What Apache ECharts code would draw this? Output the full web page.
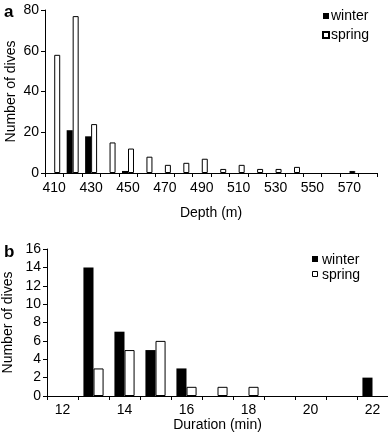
<!DOCTYPE html>
<html><head><meta charset="utf-8">
<script src="https://cdn.jsdelivr.net/npm/echarts@6/dist/echarts.min.js"></script>
<style>html,body{margin:0;padding:0;background:#fff}#c{width:388px;height:439px}</style>
</head><body><div id="c"></div>
<script>
// Panel a: depth
const depthCats = ['410','420','430','440','450','460','470','480','490','500','510','520','530','540','550','560','570','580'];
const depthWinter = [0,21,18,0,1,0,0,0,0,0,0,0,0,0,0,0,0,0];
const depthSpring = [58,77,24,15,12,8,4,5,7,2,4,2,2,3,0,0,1,0];
// Panel b: duration
const durCats = ['12','13','14','15','16','17','18','19','20','21','22'];
const durWinter = [0,14,7,5,3,0,0,0,0,0,2];
const durSpring = [0,3,5,6,1,1,1,0,0,0,0];

const nz = arr => arr.map(v => v === 0 ? '-' : v);
const FONT = '"Liberation Sans", Arial, sans-serif';
const txt = {color:'#000', fontFamily: FONT, fontSize: 14};
const chart = echarts.init(document.getElementById('c'), null, {renderer:'canvas'});
const axisLine = {show:true, lineStyle:{color:'#000', width:1}};
const axisTick = {show:true, length:4, lineStyle:{color:'#000'}};
const winterStyle = {color:'#000'};
const springStyle = {color:'#fff', borderColor:'#000', borderWidth:1};

chart.setOption({
  animation:false,
  textStyle:{fontFamily: FONT},
  grid:[
    {left:45, right:11, top:10, bottom:266, containLabel:false, outerBoundsMode:'none'},
    {left:47, right:0, top:249, bottom:43, containLabel:false, outerBoundsMode:'none'}
  ],
  legend:[
    {orient:'vertical', left:317, top:4, itemWidth:6, itemHeight:6, itemGap:5,
     textStyle:Object.assign({}, txt, {padding:[0,0,0,-3]}), data:[{name:'winter', icon:'rect'},{name:'spring', icon:'rect'}]},
  ],
  xAxis:[
    {type:'category', gridIndex:0, data:depthCats, boundaryGap:true,
     axisLine, axisTick:Object.assign({}, axisTick, {interval:0}),
     axisLabel:Object.assign({}, txt, {interval:1, margin:8}),
     name:'Depth (m)', nameLocation:'middle', nameGap:33, nameMoveOverlap:false, nameTextStyle:txt},
    {type:'category', gridIndex:1, data:durCats, boundaryGap:true,
     axisLine, axisTick:Object.assign({}, axisTick, {interval:0}),
     axisLabel:Object.assign({}, txt, {interval:1, margin:7}),
     name:'Duration (min)', nameLocation:'middle', nameGap:22, nameMoveOverlap:false, nameTextStyle:txt}
  ],
  yAxis:[
    {type:'value', gridIndex:0, min:0, max:80, interval:20, splitLine:{show:false},
     axisLine, axisTick, axisLabel:Object.assign({}, txt, {margin:6}),
     name:'Number of dives', nameLocation:'middle', nameGap:27, nameMoveOverlap:false, nameTextStyle:txt},
    {type:'value', gridIndex:1, min:0, max:16, interval:2, splitLine:{show:false},
     axisLine, axisTick, axisLabel:Object.assign({}, txt, {margin:6}),
     name:'Number of dives', nameLocation:'middle', nameGap:32, nameMoveOverlap:false, nameTextStyle:txt}
  ],
  series:[
    {name:'winter', type:'bar', xAxisIndex:0, yAxisIndex:0, data:nz(depthWinter), itemStyle:winterStyle, barGap:'0%', barCategoryGap:'35%'},
    {name:'spring', type:'bar', xAxisIndex:0, yAxisIndex:0, data:nz(depthSpring), itemStyle:springStyle, barGap:'0%', barCategoryGap:'35%'},
    {name:'winter', type:'bar', xAxisIndex:1, yAxisIndex:1, data:nz(durWinter), itemStyle:winterStyle, barGap:'0%', barCategoryGap:'35%'},
    {name:'spring', type:'bar', xAxisIndex:1, yAxisIndex:1, data:nz(durSpring), itemStyle:springStyle, barGap:'0%', barCategoryGap:'35%'}
  ],
  graphic:[
    {type:'text', left:4, top:4, style:{text:'a', font:'bold 17px '+FONT, fill:'#000'}},
    {type:'text', left:4, top:244, style:{text:'b', font:'bold 17px '+FONT, fill:'#000'}},
    {type:'group', left:312, top:253, children:[
      {type:'rect', shape:{x:0,y:3,width:6,height:6}, style:{fill:'#000'}},
      {type:'text', x:10, y:0, style:{text:'winter', font:'14px '+FONT, fill:'#000'}},
      {type:'rect', shape:{x:0.5,y:18.5,width:5,height:5}, style:{fill:'#fff', stroke:'#000', lineWidth:1}},
      {type:'text', x:10, y:15, style:{text:'spring', font:'14px '+FONT, fill:'#000'}}
    ]}
  ]
});
</script></body></html>
